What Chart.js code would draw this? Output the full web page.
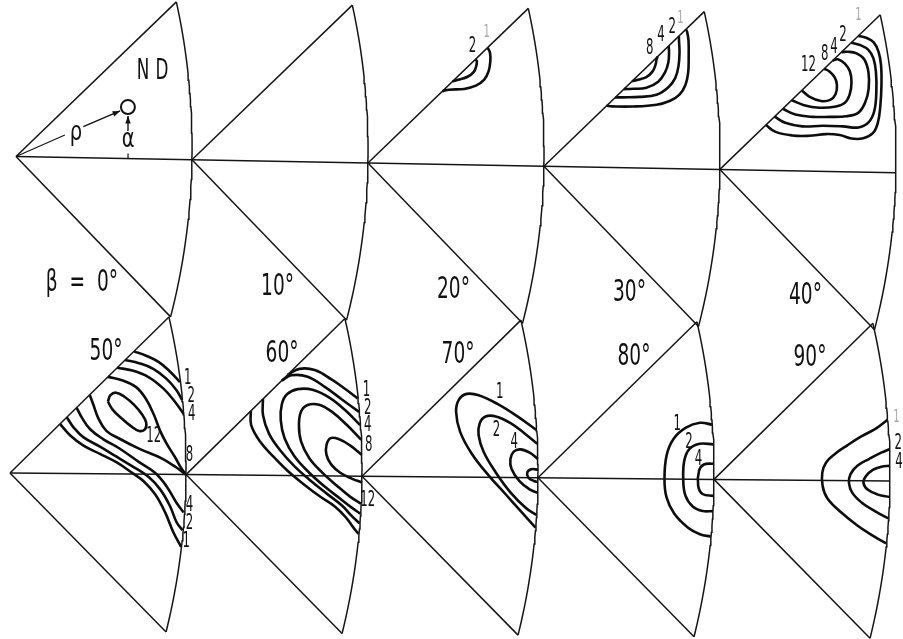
<!DOCTYPE html>
<html><head><meta charset="utf-8">
<script src="https://cdn.jsdelivr.net/npm/chart.js@4.4.1/dist/chart.umd.min.js"></script>
<style>html,body{margin:0;padding:0;background:#fff;overflow:hidden}#wrap{width:903px;height:639px}</style>
</head><body><div id="wrap"><canvas id="c" width="903" height="639"></canvas></div>
<script>
// ===== DATA (local section coordinates, degrees: u along the middle line, w perpendicular) =====
const sectionTitles = ['β  =  0°','10°','20°','30°','40°','50°','60°','70°','80°','90°'];
const contourLevels = [1, 2, 4, 8, 12];

const sec0 = [];
const sec10 = [];
const sec20 = [
  [1, [[29.2,29.2],[31.9,29.9],[37.9,30.3],[42.6,31.7],[45.9,34.2],[47.6,37.6],[48.2,41.6],[48.0,45.0],[47.0,47.0]]],
  [2, [[33.2,33.2],[35.9,34.0],[39.2,35.2],[41.6,37.1],[42.6,39.5],[42.8,41.5],[42.2,42.2]]]
];
const sec30 = [
  [1, [[24.6,24.6],[26.9,24.4],[35.1,24.5],[44.6,25.4],[50.0,27.1],[53.7,29.6],[56.0,33.5],[57.0,38.5],[57.1,44.6],[56.9,51.4],[56.3,54.7],[55.8,55.8]]],
  [2, [[28.0,28.0],[31.0,28.1],[37.8,28.4],[44.5,29.4],[49.2,32.5],[51.9,36.3],[53.1,41.1],[53.4,46.6],[53.1,51.3],[53.0,53.0]]],
  [4, [[31.4,31.4],[35.0,31.6],[40.4,32.1],[45.1,34.6],[47.7,38.3],[49.0,42.4],[49.2,46.5],[49.0,49.0]]],
  [8, [[34.6,34.6],[37.0,35.3],[40.3,36.4],[42.7,38.6],[43.9,41.4],[44.3,43.7],[44.7,44.7]]]
];
const sec40 = [
  [1, [[18.1,18.1],[21.8,15.5],[28.7,14.1],[35.4,14.1],[42.2,14.9],[47.7,14.6],[52.4,13.3],[57.1,13.5],[60.9,15.6],[62.8,19.7],[63.7,26.5],[64.0,34.7],[63.7,42.8],[62.6,48.2],[60.6,51.9],[57.8,53.6],[54.4,54.4]]],
  [2, [[21.5,21.5],[25.8,19.1],[32.6,17.8],[40.8,18.2],[48.9,18.1],[55.1,17.8],[59.1,19.9],[61.3,24.4],[62.0,31.9],[61.7,40.1],[60.6,45.5],[58.6,48.8],[55.1,50.8],[51.6,51.6]]],
  [4, [[24.7,24.7],[29.8,22.5],[36.7,21.7],[43.5,21.8],[50.2,22.2],[54.9,23.6],[57.6,27.8],[58.9,33.2],[58.7,40.0],[56.9,45.1],[53.8,47.4],[50.4,48.0],[47.8,47.8]]],
  [8, [[28.2,28.2],[33.2,26.3],[39.3,25.4],[45.4,25.9],[49.5,27.6],[51.4,31.1],[52.0,35.8],[51.3,40.1],[49.2,43.2],[46.4,44.9],[44.3,44.3]]],
  [12, [[32.2,32.2],[35.2,29.8],[39.9,28.1],[43.6,28.6],[45.7,30.9],[46.2,34.6],[45.2,37.7],[43.1,40.0],[41.0,41.0]]]
];
const sec50 = [
  [1, [[49.1,49.1],[53.8,47.5],[59.0,45.0],[63.7,41.1],[67.6,37.0]]],
  [2, [[45.6,45.6],[51.2,44.4],[57.1,42.1],[62.3,38.2],[66.3,33.7],[68.6,29.8]]],
  [4, [[42.5,42.5],[48.6,41.4],[55.2,38.8],[61.1,34.3],[65.7,29.1],[69.3,24.2]]],
  [8, [[38.8,38.8],[44.8,37.4],[50.0,34.9],[54.0,30.3],[57.3,23.9],[59.9,17.4],[62.6,12.2],[65.9,7.0],[68.5,2.5],[70.4,0]]],
  [12, [[38.9,28.9],[39.9,31.5],[42.2,32.5],[45.5,30.9],[49.4,27.7],[52.7,23.8],[54.3,20.6],[53.8,17.9],[51.5,17.3],[48.2,19.2],[44.3,22.4],[40.9,25.6],[38.9,28.9]]],
  [8, [[31.6,31.6],[33.1,27.6],[35.1,22.3],[38.4,17.2],[43.7,14.1],[51.5,10.2],[60.6,6.4],[66.4,2.9],[70.4,0]]],
  [4, [[26.4,26.4],[28.6,22.3],[31.9,17.8],[37.1,13.9],[43.7,10.2],[51.6,4.8],[58.1,0.5],[62.7,-4.8],[66.7,-11.3],[69.6,-15.2]]],
  [2, [[22.5,22.5],[25.4,18.3],[29.3,14.5],[35.9,10.9],[42.4,7.0],[48.8,3.2],[55.5,-1.1],[60.2,-6.1],[64.1,-12.6],[66.8,-19.1],[69.2,-22.3]]],
  [1, [[19.8,19.8],[24.1,15.1],[29.3,11.2],[35.9,8.0],[42.5,4.7],[49.0,0.4],[53.6,-2.9],[58.2,-8.1],[62.2,-15.2],[65.5,-23.0],[68.7,-28.9]]]
];
const sec60 = [
  [1, [[40.3,40.3],[45.0,42.7],[51.1,42.3],[57.7,38.7],[63.8,34.5],[68.4,31.1]]],
  [1, [[25.7,25.7],[25.9,20.0],[29.5,13.5],[34.8,7.6],[40.7,1.8],[47.1,-3.4],[53.7,-8.3],[59.9,-12.4],[64.5,-17.0],[67.1,-20.5],[69.2,-23.1]]],
  [2, [[37.9,37.9],[41.7,40.1],[48.3,39.6],[55.5,35.4],[62.1,30.6],[69.0,25.7]]],
  [2, [[30.5,30.5],[30.6,24.0],[33.0,16.8],[37.4,10.3],[43.3,3.8],[49.9,-2.0],[56.5,-7.2],[62.5,-11.8],[66.5,-16.0],[69.6,-18.9]]],
  [4, [[69.5,20.4],[63.5,26.3],[56.9,31.4],[50.3,34.4],[44.4,34.6],[40.2,32.6],[38.1,28.6],[37.7,22.1],[39.3,14.9],[43.3,7.7],[49.3,1.2],[55.9,-4.6],[61.8,-9.1],[66.4,-12.6],[69.9,-15.0]]],
  [8, [[70.0,14.5],[64.2,20.4],[58.2,25.6],[53.0,28.4],[48.4,28.3],[45.8,25.7],[45.0,20.2],[45.9,13.7],[49.2,7.1],[54.5,1.3],[60.4,-3.9],[65.7,-8.2],[70.1,-11.0]]],
  [12, [[70.2,8.6],[65.5,12.3],[60.9,14.8],[57.7,15.1],[56.1,12.4],[56.1,8.5],[58.0,4.6],[61.7,1.3],[66.3,-1.0],[70.4,-2.5]]]
];
const sec70 = [
  [1, [[69.6,19.1],[62.1,24.4],[53.9,29.4],[46.4,32.8],[41.6,33.3],[38.5,31.0],[37.4,26.2],[39.1,18.1],[43.9,9.3],[50.8,0.6],[57.6,-6.8],[63.8,-13.6],[69.6,-19.9]]],
  [2, [[70.0,13.6],[64.9,17.7],[59.4,21.7],[53.3,24.4],[49.2,24.3],[46.9,21.6],[46.5,16.8],[48.6,10.1],[53.5,2.0],[59.6,-6.1],[65.8,-12.2],[69.9,-14.9]]],
  [4, [[70.3,7.5],[67.0,10.0],[63.3,11.3],[60.6,10.4],[59.3,7.4],[59.8,3.4],[63.0,-1.4],[67.1,-4.7],[70.3,-6.0]]],
  [8, [[70.4,3.2],[67.7,3.4],[66.1,2.1],[66.6,0.0],[68.8,-1.3],[70.4,-1.7]]]
];
const sec80 = [
  [1, [[69.4,21.9],[64.6,22.6],[59.0,20.6],[54.2,16.2],[51.4,9.6],[50.6,0.0],[51.5,-7.4],[54.6,-13.8],[60.2,-19.4],[65.0,-22.0],[69.3,-22.9]]],
  [2, [[70.0,14.0],[64.6,14.2],[60.6,12.2],[58.5,7.6],[58.1,0.1],[59.0,-6.5],[62.0,-10.9],[66.0,-12.7],[70.1,-12.7]]],
  [4, [[70.3,6.3],[66.3,5.9],[64.4,3.4],[64.1,-2.6],[65.9,-5.9],[70.3,-6.6]]]
];
const sec90 = [
  [1, [[69.2,24.5],[64.7,21.0],[58.6,17.6],[53.2,14.1],[48.4,10.7],[44.8,7.2],[43.3,3.1],[43.5,-2.3],[45.4,-7.1],[50.7,-12.5],[57.5,-17.9],[63.7,-21.9],[69.1,-25.0]]],
  [2, [[70.1,12.7],[66.8,11.3],[62.1,8.8],[57.3,6.0],[54.6,2.6],[54.0,-0.9],[55.4,-4.9],[59.5,-9.0],[65.0,-12.4],[69.9,-15.0]]],
  [4, [[70.3,6.1],[66.9,5.7],[63.5,4.4],[60.8,1.9],[59.8,-0.8],[61.5,-3.5],[65.6,-5.5],[70.3,-6.4]]]
];
const sections = [sec0, sec10, sec20, sec30, sec40, sec50, sec60, sec70, sec80, sec90];

// level labels: [text, u, w, faint]
const lab0 = [], lab10 = [];
const lab20 = [['2',41.0,47.4],['1',46.5,53.1,1]];
const lab30 = [['8',41.5,48.0],['4',45.9,53.0],['2',50.3,56.3],['1',53.5,60.0,1]];
const lab40 = [['12',34.7,42.2],['8',41.1,46.8],['4',44.7,49.7],['2',48.3,54.6],['1',54.3,62.8,1]];
const lab50 = [['1',70.8,38.3],['2',72.2,31.2],['4',72.5,24.0],['8',71.7,7.7],['12',57.4,15.0],['4',71.9,-12.5],['2',72.0,-19.7],['1',70.7,-26.9]];
const lab60 = [['1',71.9,34.1],['2',72.5,27.0],['4',72.5,20.3],['8',73.0,12.1],['12',72.8,-9.9]];
const lab70 = [['1',54.8,34.1],['2',53.6,18.9],['4',60.8,14.2]];
const lab80 = [['1',55.5,22.0],['2',60.3,14.6],['4',64.1,8.0]];
const lab90 = [['1',72.8,25.5,1],['2',73.6,15.0],['4',73.9,7.5]];
const levelLabels = [lab0, lab10, lab20, lab30, lab40, lab50, lab60, lab70, lab80, lab90];

// ===== LAYOUT =====
const W = 903, H = 639, PX = 2.5;           // px per degree
const STEP = 70.4;                           // apex to apex along a row
const EDGE = 63;                             // corner of the sector (u = |w|)
const ARC_R = 271.9, ARC_CX = STEP - ARC_R;  // outer boundary
const ROWS = [{x:16, y:156.5, tilt:1.05}, {x:10, y:473, tilt:0.52}];

function toXY(r, c, u, w) {
  const R = ROWS[r], t = R.tilt * Math.PI / 180;
  const U = c * STEP + u;
  return { x: R.x / PX + U * Math.cos(t) + w * Math.sin(t),
           y: (H - R.y) / PX - U * Math.sin(t) + w * Math.cos(t) };
}
function wedge() {
  const a = Math.atan2(EDGE, EDGE - ARC_CX), arc = [];
  for (let k = 0; k <= 48; k++) { const p = -a + 2 * a * k / 48; arc.push([ARC_CX + ARC_R * Math.cos(p), ARC_R * Math.sin(p)]); }
  return [[[0,0],[EDGE,EDGE]], [[0,0],[EDGE,-EDGE]], [[0,0],[STEP,0]], arc];
}

const datasets = [];
for (let i = 0; i < 10; i++) {
  const r = Math.floor(i / 5), c = i % 5;
  wedge().forEach(seg => datasets.push({
    data: seg.map(p => toXY(r, c, p[0], p[1])), showLine: true, pointRadius: 0,
    borderColor: '#151515', borderWidth: 1.5, tension: 0, clip: false
  }));
  sections[i].forEach(([lev, pts]) => datasets.push({
    label: 'β' + (i*10) + ' level ' + lev,
    data: pts.map(p => toXY(r, c, p[0], p[1])), showLine: true, pointRadius: 0,
    borderColor: '#0d0d0d', borderWidth: 2.6, tension: 0.4, clip: false
  }));
}

function txt(ctx, s, x, y, size, sx, align, base, color) {
  ctx.save(); ctx.translate(x, y); ctx.scale(sx, 1);
  ctx.font = size + 'px "DejaVu Sans", sans-serif';
  ctx.textAlign = align; ctx.textBaseline = base; ctx.fillStyle = color;
  ctx.fillText(s, 0, 0); ctx.restore();
}

const textPlugin = {
  id: 'texts',
  afterDatasetsDraw(chart) {
    const ctx = chart.ctx, xs = chart.scales.x, ys = chart.scales.y;
    const P = (r, c, u, w) => { const q = toXY(r, c, u, w); return [xs.getPixelForValue(q.x), ys.getPixelForValue(q.y)]; };
    for (let i = 0; i < 10; i++) {
      const r = Math.floor(i / 5), c = i % 5;
      const t = r === 0 ? P(r, c, 41.8, -53.2) : P(r, c, 44.6, 45.6);
      txt(ctx, sectionTitles[i], t[0], t[1], 31, 0.6, 'right', 'alphabetic', '#111');
      levelLabels[i].forEach(([s, u, w, f]) => {
        const q = P(r, c, u, w);
        txt(ctx, s, q[0], q[1], f ? 18 : 21, 0.56, 'center', 'middle', f ? '#a8a8a8' : '#111');
      });
    }
    // key in the first section
    const N = P(0,0,50.2,34.7), D = P(0,0,57.8,34.9);
    txt(ctx, 'N', N[0], N[1], 28, 0.6, 'center', 'middle', '#111');
    txt(ctx, 'D', D[0], D[1], 28, 0.6, 'center', 'middle', '#111');
    const rho = P(0,0,23.8,9.8), al = P(0,0,44.7,7.4);
    txt(ctx, 'ρ', rho[0], rho[1], 26, 0.75, 'center', 'middle', '#111');
    txt(ctx, 'α', al[0], al[1], 26, 0.75, 'center', 'middle', '#111');
    ctx.save(); ctx.strokeStyle = '#111'; ctx.fillStyle = '#111';
    const line = (a, b, lw) => { ctx.lineWidth = lw; ctx.beginPath(); ctx.moveTo(a[0], a[1]); ctx.lineTo(b[0], b[1]); ctx.stroke(); };
    const head = (a, b) => { const ang = Math.atan2(b[1]-a[1], b[0]-a[0]); ctx.beginPath();
      ctx.moveTo(b[0], b[1]); ctx.lineTo(b[0]-8*Math.cos(ang-0.35), b[1]-8*Math.sin(ang-0.35));
      ctx.lineTo(b[0]-8*Math.cos(ang+0.35), b[1]-8*Math.sin(ang+0.35)); ctx.closePath(); ctx.fill(); };
    line(P(0,0,0,0), P(0,0,19.4,9.0), 1.1);
    const a1 = P(0,0,26.7,12.4), a2 = P(0,0,41.3,19.0);
    line(a1, a2, 1.4); head(a1, a2);
    const b1 = P(0,0,44.6,11.0), b2 = P(0,0,44.5,17.0);
    line(b1, b2, 1.4); head(b1, b2);
    line(P(0,0,44.8,0), P(0,0,44.8,2.0), 1.2);
    const cc = P(0,0,44.4,20.6);
    ctx.lineWidth = 2; ctx.beginPath(); ctx.arc(cc[0], cc[1], 7, 0, 2*Math.PI); ctx.stroke();
    ctx.restore();
  }
};

new Chart(document.getElementById('c'), {
  type: 'scatter',
  data: { datasets },
  options: {
    responsive: false, animation: false, devicePixelRatio: 1, events: [],
    layout: { padding: 0 },
    plugins: { legend: { display: false }, tooltip: { enabled: false } },
    scales: {
      x: { type: 'linear', min: 0, max: W / PX, display: false },
      y: { type: 'linear', min: 0, max: H / PX, display: false }
    }
  },
  plugins: [textPlugin]
});
</script></body></html>
